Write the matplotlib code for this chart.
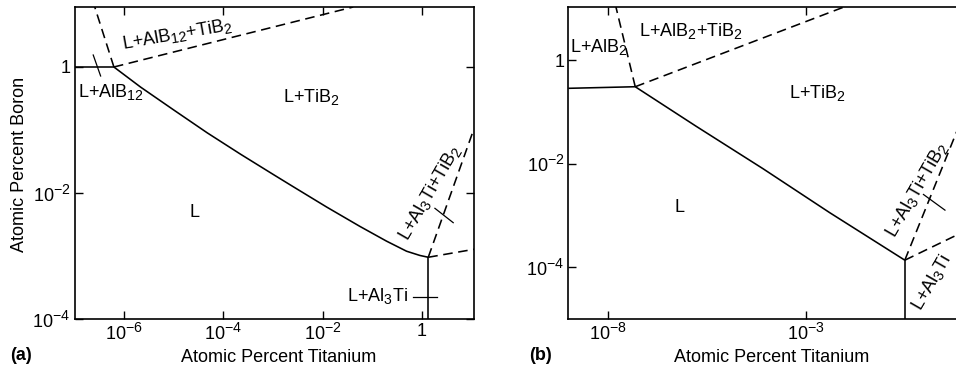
import matplotlib
matplotlib.use('Agg')
import matplotlib.pyplot as plt
from matplotlib.ticker import FixedLocator, FixedFormatter, NullLocator

plt.rcParams['font.family'] = ['Liberation Sans', 'DejaVu Sans']
plt.rcParams['mathtext.fontset'] = 'custom'
plt.rcParams['mathtext.rm'] = 'Liberation Sans'
plt.rcParams['mathtext.it'] = 'Liberation Sans:italic'
plt.rcParams['mathtext.bf'] = 'Liberation Sans:bold'
try:
    import matplotlib._mathtext as _mt
    _mt.SHRINK_FACTOR = 0.78
except Exception:
    pass

# ---------------- Panel (a) data ----------------
a_xlim = (1.03e-7, 11.2)
a_ylim = (1e-4, 8.96)
a_xticks = [1e-6, 1e-4, 1e-2, 1]
a_xticklabels = [r'$10^{-6}$', r'$10^{-4}$', r'$10^{-2}$', '1']
a_yticks = [1e-4, 1e-2, 1]
a_yticklabels = [r'$10^{-4}$', r'$10^{-2}$', '1']

a_alb12_x = [1.03e-7, 6.38e-7]
a_alb12_y = [1.0, 1.0]
a_liq_x = [6.38e-7, 2.20e-6, 1.03e-5, 4.79e-5, 2.25e-4, 1.05e-3, 2.56e-3,
           1.20e-2, 5.62e-2, 0.193, 0.488, 0.904, 1.33]
a_liq_y = [1.0, 0.479, 0.2065, 0.0902, 0.0412, 0.0194, 0.0126,
           6.0e-3, 2.95e-3, 1.72e-3, 1.19e-3, 1.02e-3, 9.55e-4]
a_al3ti_x = [1.33, 1.33]
a_al3ti_y = [9.55e-4, 1e-4]
a_dash1_x = [6.38e-7, 2.63e-7]
a_dash1_y = [1.0, 8.96]
a_dash2_x = [6.38e-7, 0.0412]
a_dash2_y = [1.0, 8.96]
a_dash3_x = [1.33, 10.5]
a_dash3_y = [9.55e-4, 0.094]
a_dash4_x = [1.33, 11.2]
a_dash4_y = [9.55e-4, 1.28e-3]
a_slash1_x = [2.45e-7, 3.45e-7]
a_slash1_y = [1.55, 0.72]
a_slash2_x = [1.81, 4.22]
a_slash2_y = [5.71e-3, 3.38e-3]
a_slash3_x = [0.662, 1.95]
a_slash3_y = [2.26e-4, 2.26e-4]

# ---------------- Panel (b) data ----------------
b_xlim = (1e-9, 10.0)
b_ylim = (1e-5, 10.7)
b_xticks = [1e-8, 1e-3]
b_xticklabels = [r'$10^{-8}$', r'$10^{-3}$']
b_yticks = [1e-4, 1e-2, 1]
b_yticklabels = [r'$10^{-4}$', r'$10^{-2}$', '1']

b_alb2_x = [1e-9, 4.92e-8]
b_alb2_y = [0.287, 0.308]
b_liq_x = [4.92e-8, 1.70e-6, 8.26e-5, 4.05e-3, 0.321]
b_liq_y = [0.308, 0.0531, 8.07e-3, 1.135e-3, 1.37e-4]
b_al3ti_x = [0.321, 0.321]
b_al3ti_y = [1.37e-4, 1e-5]
b_dash1_x = [4.92e-8, 1.6e-8]
b_dash1_y = [0.308, 10.7]
b_dash2_x = [4.92e-8, 9.31e-3]
b_dash2_y = [0.308, 10.7]
b_dash3_x = [0.321, 6.56]
b_dash3_y = [1.37e-4, 0.0416]
b_dash4_x = [0.321, 6.56]
b_dash4_y = [1.37e-4, 4.18e-4]
b_slash_x = [0.95, 3.32]
b_slash_y = [2.55e-3, 1.27e-3]

W, H = 956, 369
fig = plt.figure(figsize=(W / 100, H / 100), dpi=100)

def px_axes(left, right, top, bottom):
    return [left / W, (H - bottom) / H, (right - left) / W, (bottom - top) / H]

axa = fig.add_axes(px_axes(74.5, 474.3, 7, 319))
axb = fig.add_axes(px_axes(568.3, 963.9, 7, 319))

solid = dict(color='black', lw=1.15, solid_capstyle='butt', solid_joinstyle='round')
dashed = dict(color='black', lw=1.15, linestyle=(0, (6, 3.5)))
thin = dict(color='black', lw=0.9)
FS = 13

def style(ax, xlim, ylim, xt, xtl, yt, ytl, right_ticks):
    ax.set_xscale('log')
    ax.set_yscale('log')
    ax.set_xlim(*xlim)
    ax.set_ylim(*ylim)
    ax.xaxis.set_major_locator(FixedLocator(xt))
    ax.xaxis.set_major_formatter(FixedFormatter(xtl))
    ax.yaxis.set_major_locator(FixedLocator(yt))
    ax.yaxis.set_major_formatter(FixedFormatter(ytl))
    ax.xaxis.set_minor_locator(NullLocator())
    ax.yaxis.set_minor_locator(NullLocator())
    ax.tick_params(which='major', direction='in', length=6, width=1.0,
                   labelsize=FS, top=True, right=right_ticks, pad=3)
    for s in ax.spines.values():
        s.set_linewidth(1.2)

style(axa, a_xlim, a_ylim, a_xticks, a_xticklabels, a_yticks, a_yticklabels, True)
style(axb, b_xlim, b_ylim, b_xticks, b_xticklabels, b_yticks, b_yticklabels, False)

# Panel (a) lines
axa.plot(a_alb12_x, a_alb12_y, **solid)
axa.plot(a_liq_x, a_liq_y, **solid)
axa.plot(a_al3ti_x, a_al3ti_y, **solid)
for xs, ys in [(a_dash1_x, a_dash1_y), (a_dash2_x, a_dash2_y),
               (a_dash3_x, a_dash3_y), (a_dash4_x, a_dash4_y)]:
    axa.plot(xs, ys, **dashed)
for xs, ys in [(a_slash1_x, a_slash1_y), (a_slash2_x, a_slash2_y), (a_slash3_x, a_slash3_y)]:
    axa.plot(xs, ys, **thin)

axa.text(1.18e-5, 3.3, r'L+AlB$_{12}$+TiB$_2$', fontsize=FS, rotation=10,
         ha='center', va='center', rotation_mode='anchor')
axa.text(1.2e-7, 0.40, r'L+AlB$_{12}$', fontsize=FS, ha='left', va='center')
axa.text(1.59e-3, 0.334, r'L+TiB$_2$', fontsize=FS, ha='left', va='center')
axa.text(2.71e-5, 4.82e-3, 'L', fontsize=FS, ha='center', va='center')
axa.text(1.44, 0.01, r'L+Al$_3$Ti+TiB$_2$', fontsize=FS, rotation=60,
         ha='center', va='center', rotation_mode='anchor')
axa.text(0.519, 2.32e-4, r'L+Al$_3$Ti', fontsize=FS, ha='right', va='center')

# Panel (b) lines
axb.plot(b_alb2_x, b_alb2_y, **solid)
axb.plot(b_liq_x, b_liq_y, **solid)
axb.plot(b_al3ti_x, b_al3ti_y, **solid)
for xs, ys in [(b_dash1_x, b_dash1_y), (b_dash2_x, b_dash2_y),
               (b_dash3_x, b_dash3_y), (b_dash4_x, b_dash4_y)]:
    axb.plot(xs, ys, **dashed)
axb.plot(b_slash_x, b_slash_y, **thin)

axb.text(1.08e-9, 1.81, r'L+AlB$_2$', fontsize=FS, ha='left', va='center')
axb.text(6.21e-8, 3.69, r'L+AlB$_2$+TiB$_2$', fontsize=FS, ha='left', va='center')
axb.text(3.70e-4, 0.233, r'L+TiB$_2$', fontsize=FS, ha='left', va='center')
axb.text(6.4e-7, 1.45e-3, 'L', fontsize=FS, ha='center', va='center')
axb.text(0.647, 3.10e-3, r'L+Al$_3$Ti+TiB$_2$', fontsize=FS, rotation=60,
         ha='center', va='center', rotation_mode='anchor')
axb.text(1.55, 5.15e-5, r'L+Al$_3$Ti', fontsize=FS, rotation=60,
         ha='center', va='center', rotation_mode='anchor')

# Axis labels and panel tags
fig.text(279 / W, (H - 362) / H, 'Atomic Percent Titanium', fontsize=FS,
         ha='center', va='baseline')
fig.text(772 / W, (H - 362) / H, 'Atomic Percent Titanium', fontsize=FS,
         ha='center', va='baseline')
fig.text(20 / W, (H - 164) / H, 'Atomic Percent Boron', fontsize=FS,
         rotation=90, ha='center', va='center')
fig.text(10 / W, (H - 360) / H, '(a)', fontsize=FS, fontweight='bold',
         ha='left', va='baseline')
fig.text(529 / W, (H - 360) / H, '(b)', fontsize=FS, fontweight='bold',
         ha='left', va='baseline')

fig.savefig('out.png', dpi=100)
